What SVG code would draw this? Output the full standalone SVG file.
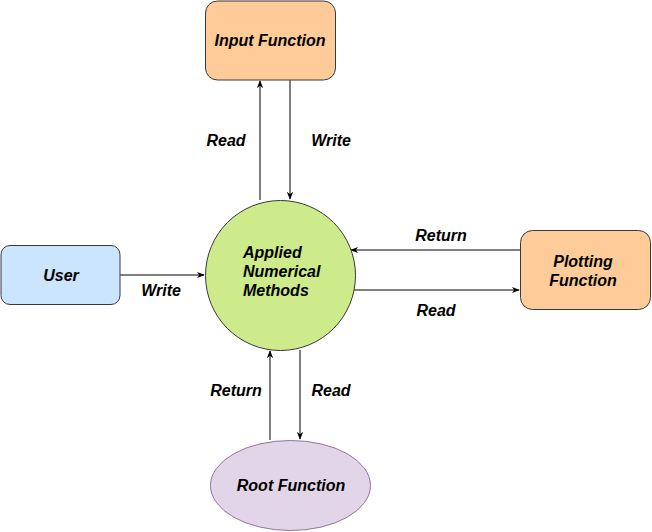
<svg xmlns="http://www.w3.org/2000/svg" width="652" height="532" viewBox="0 0 652 532">
<style>
text{font-family:"Liberation Sans",Arial,sans-serif;font-weight:bold;font-style:italic;font-size:16px;fill:#000}
.c{text-anchor:middle}
.e{stroke:#000;stroke-width:1;fill:none}
</style>
<defs>
<marker id="a" viewBox="0 0 10 10" refX="9" refY="5" markerWidth="8" markerHeight="8" markerUnits="userSpaceOnUse" orient="auto">
<path d="M0,1 L10,5 L0,9 L3,5 Z" fill="#000"/>
</marker>
</defs>
<rect width="652" height="532" fill="#fff"/>
<g id="connectors">
<line class="e" x1="260" y1="200" x2="260" y2="81" marker-end="url(#a)"/>
<line class="e" x1="290" y1="80" x2="290" y2="199" marker-end="url(#a)"/>
<line class="e" x1="120" y1="275" x2="204" y2="275" marker-end="url(#a)"/>
<line class="e" x1="520" y1="250" x2="351" y2="250" marker-end="url(#a)"/>
<line class="e" x1="354" y1="290" x2="519" y2="290" marker-end="url(#a)"/>
<line class="e" x1="270" y1="440" x2="270" y2="351" marker-end="url(#a)"/>
<line class="e" x1="300" y1="350" x2="300" y2="439" marker-end="url(#a)"/>
<text class="c" x="226" y="146">Read</text>
<text class="c" x="331" y="146">Write</text>
<text class="c" x="161" y="296">Write</text>
<text class="c" x="441" y="241">Return</text>
<text class="c" x="436" y="316">Read</text>
<text class="c" x="236" y="396">Return</text>
<text class="c" x="331" y="396">Read</text>
</g>
<g id="input">
<rect x="205.5" y="1" width="130" height="79" rx="12" fill="#ffcc99" stroke="#36393d"/>
<text class="c" x="270" y="46">Input Function</text>
</g>
<g id="user">
<rect x="1" y="245.5" width="119" height="59" rx="9" fill="#cce5ff" stroke="#36393d"/>
<text class="c" x="61" y="281">User</text>
</g>
<g id="methods">
<circle cx="280.5" cy="275.5" r="75" fill="#cdeb8b" stroke="#36393d"/>
<text x="243" y="258">Applied</text>
<text x="243" y="277">Numerical</text>
<text x="243" y="296">Methods</text>
</g>
<g id="plotting">
<rect x="520.5" y="230.5" width="130" height="79" rx="12" fill="#ffcc99" stroke="#36393d"/>
<text class="c" x="583" y="267">Plotting</text>
<text class="c" x="583" y="286">Function</text>
</g>
<g id="root">
<ellipse cx="290.5" cy="485.5" rx="80" ry="45" fill="#e1d5e7" stroke="#9673a6"/>
<text class="c" x="291" y="491">Root Function</text>
</g>
</svg>
